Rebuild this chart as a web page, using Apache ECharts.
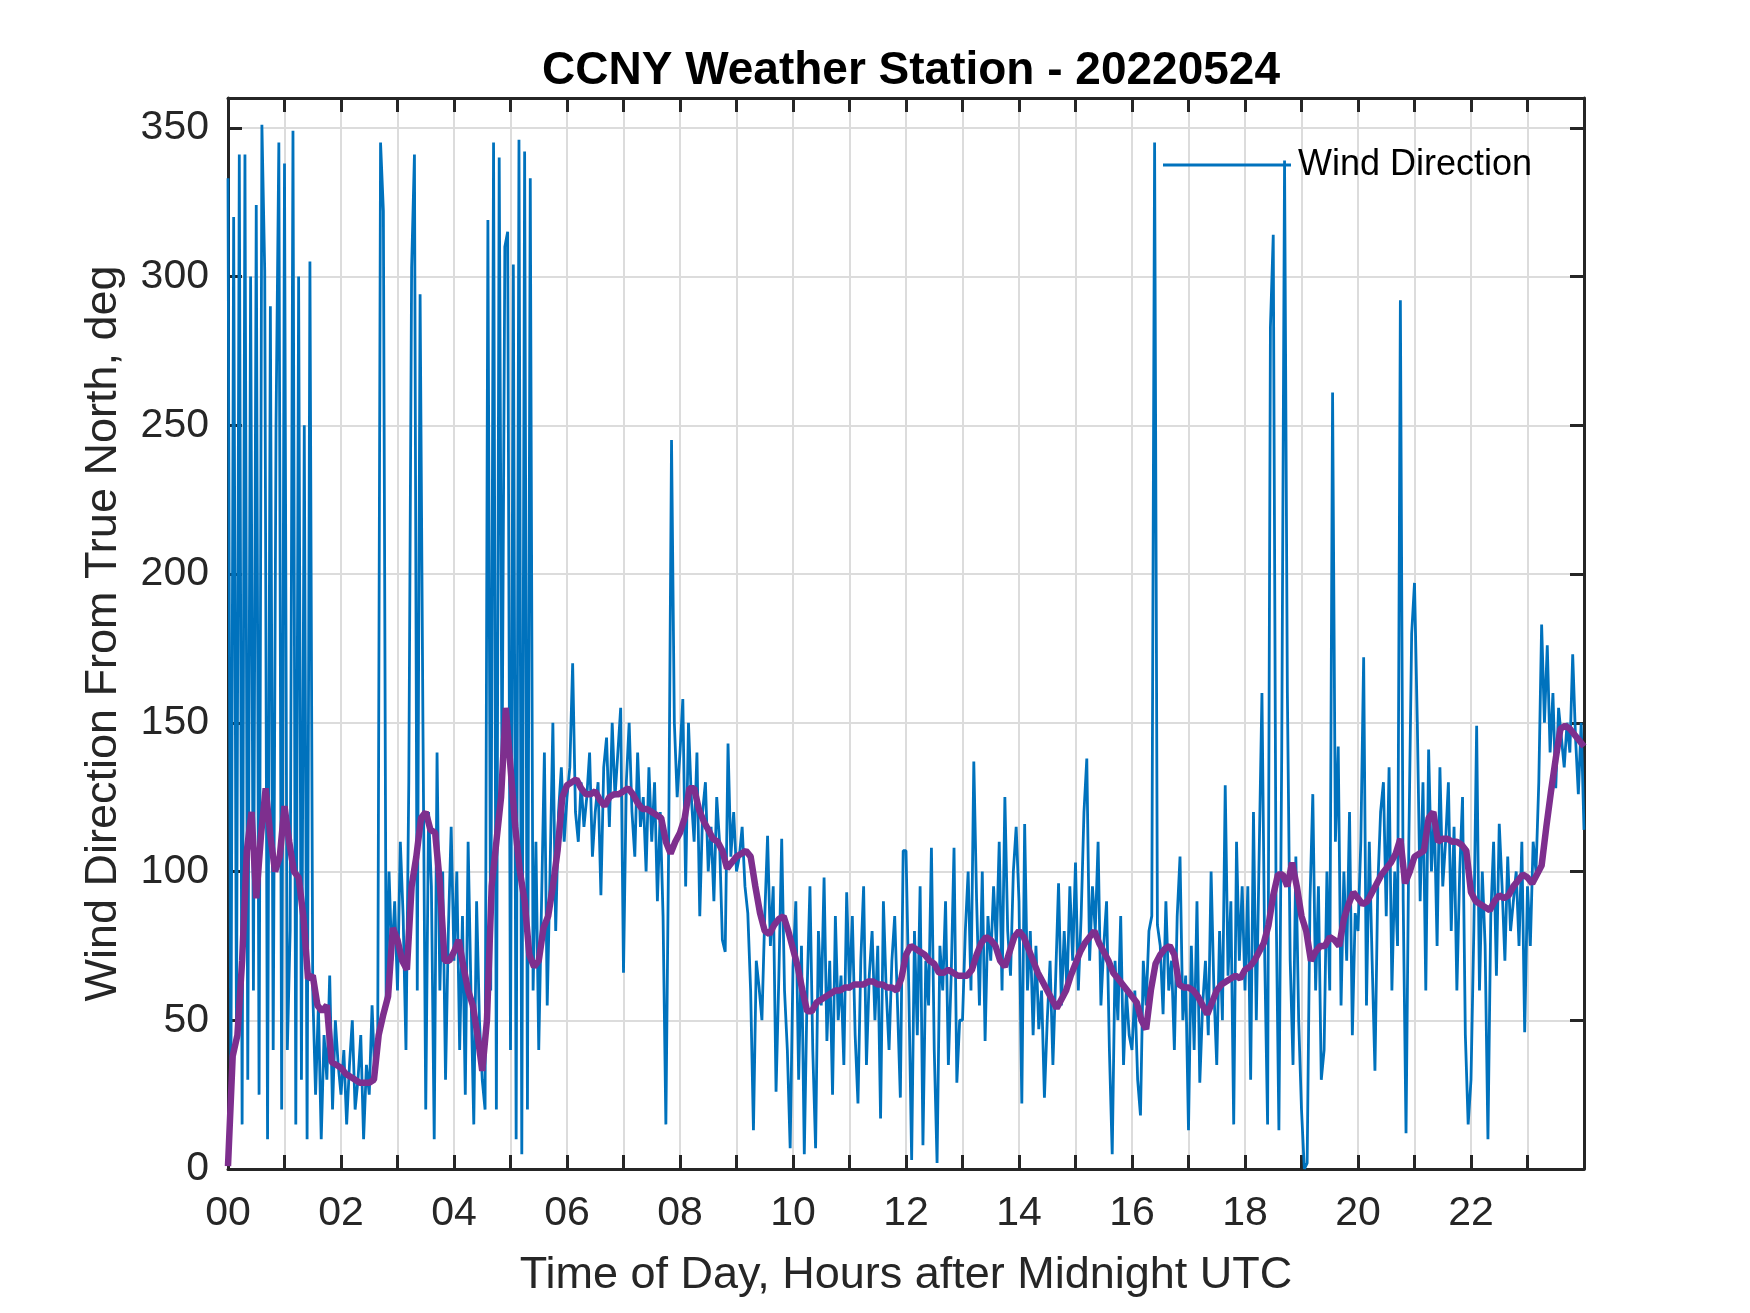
<!DOCTYPE html>
<html><head><meta charset="utf-8">
<script src="https://cdn.jsdelivr.net/npm/echarts@6/dist/echarts.min.js"></script>
<style>html,body{margin:0;padding:0;background:#fff}#c{width:1750px;height:1313px}</style>
</head><body><div id="c"></div>
<script>
const chartTitle = 'CCNY Weather Station - 20220524';
const xAxisTitle = 'Time of Day, Hours after Midnight UTC';
const yAxisTitle = 'Wind Direction From True North, deg';
const seriesName = 'Wind Direction';
const hourTickLabels = ['00','02','04','06','08','10','12','14','16','18','20','22'];
const sampleMinutes = 3;   // raw series spacing
const smoothMinutes = 5;   // smoothed series spacing

// raw wind direction, one row per hour (20 samples/hour)
const windDirection = [
 333,20,320,45,341,15,341,30,300,60,324,25,351,302,10,290,40,250,345,20,
 338,40,80,349,15,300,30,250,10,305,60,25,55,10,45,30,65,20,50,35,
 25,40,15,35,50,20,30,45,10,35,25,55,30,45,345,322,55,100,70,90,
 60,110,85,40,130,303,341,60,294,150,20,120,95,10,140,60,100,30,80,115,
 70,100,40,85,25,110,60,15,90,50,30,20,319,60,345,20,340,130,310,315,
 40,304,10,346,5,342,20,333,60,110,40,90,140,55,100,150,80,120,135,110,
 125,135,170,120,110,130,115,125,140,105,120,130,92,135,145,115,150,125,140,155,
 66,130,150,120,105,140,115,125,100,135,110,130,90,120,85,15,110,245,150,125,
 140,158,95,150,125,110,140,85,120,130,100,115,90,125,110,77,73,143,105,120,
 100,105,115,95,86,60,13,70,61,50,85,112,75,95,26,65,111,60,40,7,
 68,90,30,75,5,60,95,40,7,80,55,98,43,70,25,85,50,65,35,93,
 60,85,45,22,70,95,35,65,80,50,75,17,90,60,40,70,85,55,24,107,
 107,60,3,80,45,95,8,70,55,108,40,2,75,60,90,35,65,108,29,50,
 50,80,100,60,137,90,55,100,43,85,70,95,75,110,60,125,80,65,100,115,
 90,22,116,60,80,45,75,47,60,24,50,70,35,65,96,55,80,60,95,70,
 103,60,85,120,138,70,95,80,110,55,75,90,40,5,70,50,85,35,60,45,
 40,60,30,18,70,55,80,85,345,82,75,52,90,60,70,40,85,105,50,65,
 13,75,40,90,29,55,70,45,100,60,35,80,50,129,65,90,15,110,70,95,
 60,95,30,120,50,105,160,70,15,283,314,90,13,140,339,160,70,35,105,50,
 20,0,2,90,126,60,95,30,40,100,60,261,110,142,55,100,70,120,45,86,
 80,110,172,55,110,70,33,95,120,130,85,135,60,100,75,292,90,12,110,180,
 197,150,90,130,60,141,100,120,75,135,95,110,130,80,115,60,100,125,45,15,
 30,80,149,60,100,75,10,85,110,65,116,95,70,105,80,90,100,75,110,46,
 95,75,110,100,130,183,150,176,140,160,128,155,145,135,150,140,173,145,126,150,
 114
];

// smoothed wind direction, 12 samples/hour
const windDirectionSmoothed = [
 1,38,45,70,107,120,91,112,128,112,100,105,
 122,110,100,98,85,64,65,55,53,55,36,35,
 34,32,31,30,29,29,29,30,45,52,58,81,
 77,70,67,95,105,118,120,114,113,96,70,70,
 73,77,68,60,55,45,33,50,95,110,125,155,
 135,115,100,90,72,68,70,81,85,95,107,125,
 129,130,131,128,126,126,127,124,122,125,126,126,
 127,128,126,123,121,121,120,119,118,110,106,110,
 113,118,128,128,121,117,114,111,110,107,101,103,
 105,106,107,105,95,86,80,79,82,84,85,80,
 74,68,60,53,53,56,57,58,59,60,60,61,
 61,62,62,62,63,63,62,62,61,61,60,64,
 72,75,74,73,72,70,69,66,66,67,66,65,
 65,65,67,72,76,78,77,75,70,68,73,78,
 80,78,74,70,66,63,60,57,54,57,60,65,
 69,73,76,78,80,76,73,70,66,64,62,60,
 58,56,50,47,60,69,72,74,75,72,62,61,
 61,60,58,55,52,56,60,62,63,64,65,64,
 67,68,70,73,76,82,92,99,99,95,103,95,
 85,80,70,73,75,75,78,77,75,84,89,93,
 91,89,90,93,96,99,101,103,106,111,96,100,
 105,106,107,118,120,110,111,111,110,110,109,107,
 93,90,89,88,87,90,92,91,92,95,97,99,
 98,96,99,102,115,127,138,148,149,148,146,144,
 142
];

const rawData = windDirection.map((v, i) => [i * sampleMinutes / 60, v]);
const smoothData = windDirectionSmoothed.map((v, i) => [i * smoothMinutes / 60, v]);

const axisColor = '#262626';
const gridColor = '#dcdcdc';
const blue = '#0072BD';
const purple = '#7E2F8E';
const font = 'Arial, "Liberation Sans", Helvetica, sans-serif';

const chart = echarts.init(document.getElementById('c'), null, {renderer: 'canvas'});
chart.setOption({
  animation: false,
  backgroundColor: '#ffffff',
  title: {
    text: chartTitle,
    left: 906, top: 43, textAlign: 'center',
    textStyle: {fontFamily: font, fontSize: 46, fontWeight: 'bold', color: '#000'}
  },
  legend: {
    data: [{name: seriesName, icon: 'rect'}],
    left: 1158, top: 142,
    itemWidth: 128, itemHeight: 3, itemGap: 0,
    textStyle: {fontFamily: font, fontSize: 36, color: '#000', padding: [0,0,0,2]}
  },
  grid: {left: 228, right: 166, top: 98, bottom: 144, containLabel: false},
  xAxis: [{
    type: 'value', min: 0, max: 24, interval: 1,
    name: xAxisTitle, nameLocation: 'middle', nameGap: 84,
    nameTextStyle: {fontFamily: font, fontSize: 45, color: axisColor},
    axisLine: {show: true, onZero: false, lineStyle: {color: axisColor, width: 3}},
    axisTick: {show: true, inside: true, length: 14, lineStyle: {color: axisColor, width: 3}},
    axisLabel: {
      fontFamily: font, fontSize: 41, color: axisColor, margin: 24,
      showMaxLabel: false,
      formatter: v => (v % 2 === 0 && v < 24) ? hourTickLabels[v / 2] : ''
    },
    splitLine: {show: true, lineStyle: {color: gridColor, width: 2}}
  }, {
    type: 'value', min: 0, max: 24, interval: 1, position: 'top',
    axisLine: {show: true, onZero: false, lineStyle: {color: axisColor, width: 3}},
    axisTick: {show: true, inside: true, length: 14, lineStyle: {color: axisColor, width: 3}},
    axisLabel: {show: false}, splitLine: {show: false}
  }],
  yAxis: [{
    type: 'value', min: 0, max: 360, interval: 50,
    name: yAxisTitle, nameLocation: 'middle', nameGap: 102, nameRotate: 90,
    nameTextStyle: {fontFamily: font, fontSize: 45, color: axisColor},
    axisLine: {show: true, onZero: false, lineStyle: {color: axisColor, width: 3}},
    axisTick: {show: true, inside: true, length: 14, lineStyle: {color: axisColor, width: 3}},
    axisLabel: {fontFamily: font, fontSize: 41, color: axisColor, margin: 19, showMaxLabel: false},
    splitLine: {show: true, lineStyle: {color: gridColor, width: 2}}
  }, {
    type: 'value', min: 0, max: 360, interval: 50, position: 'right',
    axisLine: {show: true, onZero: false, lineStyle: {color: axisColor, width: 3}},
    axisTick: {show: true, inside: true, length: 14, lineStyle: {color: axisColor, width: 3}},
    axisLabel: {show: false}, splitLine: {show: false}
  }],
  series: [{
    name: seriesName, type: 'line', data: rawData,
    xAxisIndex: 0, yAxisIndex: 0,
    symbol: 'none', showSymbol: false, sampling: null,
    lineStyle: {color: blue, width: 2.8},
    itemStyle: {color: blue},
    z: 2
  }, {
    name: 'Smoothed', type: 'line', data: smoothData,
    xAxisIndex: 0, yAxisIndex: 0,
    symbol: 'none', showSymbol: false,
    lineStyle: {color: purple, width: 6.5},
    itemStyle: {color: purple},
    z: 3
  }]
});
</script>
</body></html>
